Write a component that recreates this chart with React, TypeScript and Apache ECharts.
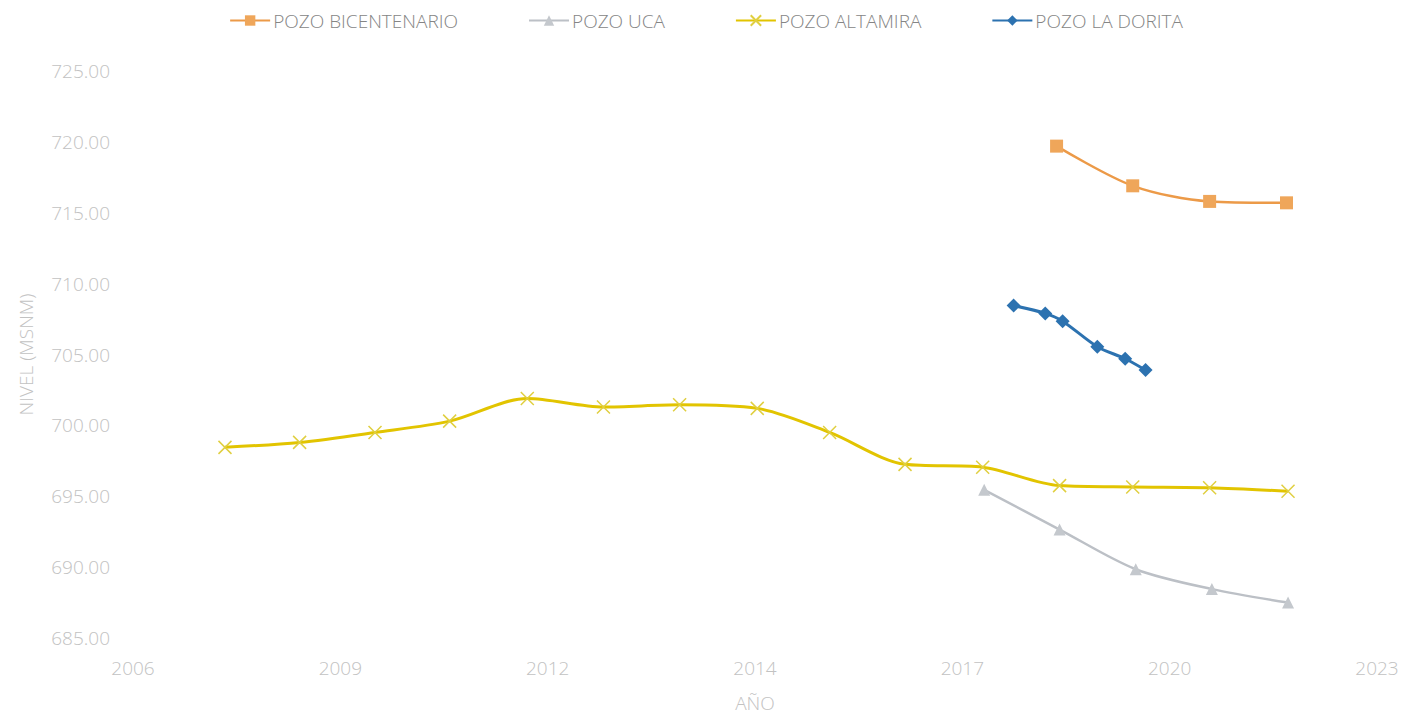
import React, { useEffect, useRef } from "react";
import * as echarts from "echarts";

// Fractional years (date of each measurement) and levels in MSNM
const altamiraYears = [2007.72, 2008.71, 2009.71, 2010.7, 2011.73, 2012.74, 2013.75, 2014.78, 2015.74, 2016.74, 2017.77, 2018.79, 2019.76, 2020.78, 2021.82];
const altamiraLevels = [698.45, 698.8, 699.5, 700.3, 701.9, 701.3, 701.45, 701.2, 699.5, 697.25, 697.05, 695.75, 695.65, 695.6, 695.35];

const bicentenarioYears = [2018.75, 2019.76, 2020.78, 2021.8];
const bicentenarioLevels = [719.7, 716.9, 715.8, 715.7];

const ucaYears = [2017.79, 2018.79, 2019.8, 2020.81, 2021.82];
const ucaLevels = [695.45, 692.65, 689.85, 688.45, 687.5];

const doritaYears = [2018.18, 2018.6, 2018.83, 2019.29, 2019.66, 2019.93];
const doritaLevels = [708.45, 707.9, 707.35, 705.55, 704.7, 703.9];

const xTickValues = [2006.5, 2009.25, 2012.0, 2014.75, 2017.5, 2020.25, 2023.0];
const yMin = 685;
const yMax = 725;
const yStep = 5;

const pair = (xs: number[], ys: number[]) => xs.map((x, i) => [x, ys[i]]);

const FONT = "'Open Sans', 'Noto Sans', sans-serif";
const LABEL_COLOR = "#C2C2C2";

export default function App() {
  const ref = useRef<HTMLDivElement>(null);
  useEffect(() => {
    if (!ref.current) return;
    const chart = echarts.init(ref.current, undefined, { renderer: "svg" });
    chart.setOption({
      animation: false,
      backgroundColor: "#ffffff",
      textStyle: { fontFamily: FONT },
      legend: {
        top: 6,
        left: "center",
        itemWidth: 40,
        itemHeight: 13,
        itemGap: 70,
        textStyle: { color: "#858585", fontSize: 19, fontFamily: FONT, fontWeight: 300, padding: [0, 0, 0, -2] },
        data: ["POZO BICENTENARIO", "POZO UCA", "POZO ALTAMIRA", "POZO LA DORITA"],
      },
      grid: { left: 133, right: 35, top: 71, bottom: 80, containLabel: false },
      xAxis: {
        type: "value",
        min: 2006.5,
        max: 2023,
        name: "AÑO",
        nameLocation: "middle",
        nameGap: 55,
        nameTextStyle: { color: LABEL_COLOR, fontSize: 19, fontFamily: FONT, fontWeight: 300 },
        axisLine: { show: false },
        axisTick: { show: false, customValues: xTickValues },
        splitLine: { show: false },
        axisLabel: {
          customValues: xTickValues,
          color: LABEL_COLOR,
          fontSize: 19,
          fontWeight: 300,
          margin: 20,
          fontFamily: FONT,
          formatter: (v: number) => String(Math.floor(v + 1e-6)),
        },
      },
      yAxis: {
        type: "value",
        min: yMin,
        max: yMax,
        interval: yStep,
        name: "NIVEL (MSNM)",
        nameLocation: "middle",
        nameGap: 98,
        nameRotate: 90,
        nameTextStyle: { color: LABEL_COLOR, fontSize: 19, fontFamily: FONT, fontWeight: 300 },
        axisLine: { show: false },
        axisTick: { show: false },
        splitLine: { show: false },
        axisLabel: {
          color: LABEL_COLOR,
          fontSize: 19,
          fontWeight: 300,
          margin: 23,
          fontFamily: FONT,
          formatter: (v: number) => v.toFixed(2),
        },
      },
      series: [
        {
          name: "POZO BICENTENARIO",
          type: "line",
          smooth: 0.3,
          data: pair(bicentenarioYears, bicentenarioLevels),
          symbol: "rect",
          symbolSize: 13,
          lineStyle: { color: "#EC9A48", width: 2.5 },
          itemStyle: { color: "#EFA65A" },
        },
        {
          name: "POZO UCA",
          type: "line",
          smooth: 0.3,
          data: pair(ucaYears, ucaLevels),
          symbol: "triangle",
          symbolSize: 12,
          lineStyle: { color: "#BCC0C6", width: 2.5 },
          itemStyle: { color: "#C4C8CD" },
        },
        {
          name: "POZO ALTAMIRA",
          type: "line",
          smooth: 0.3,
          data: pair(altamiraYears, altamiraLevels),
          symbol: "path://M0,0L10,10M10,0L0,10",
          symbolSize: 13,
          lineStyle: { color: "#E2C400", width: 3 },
          itemStyle: { color: "transparent", borderColor: "#E0CF40", borderWidth: 1.5 },
        },
        {
          name: "POZO LA DORITA",
          type: "line",
          smooth: 0.3,
          data: pair(doritaYears, doritaLevels),
          symbol: "diamond",
          symbolSize: 14,
          lineStyle: { color: "#2C72B0", width: 3 },
          itemStyle: { color: "#2C72B0" },
        },
      ],
    });
    return () => chart.dispose();
  }, []);
  return <div ref={ref} style={{ width: 1412, height: 718, margin: -8 }} />;
}
